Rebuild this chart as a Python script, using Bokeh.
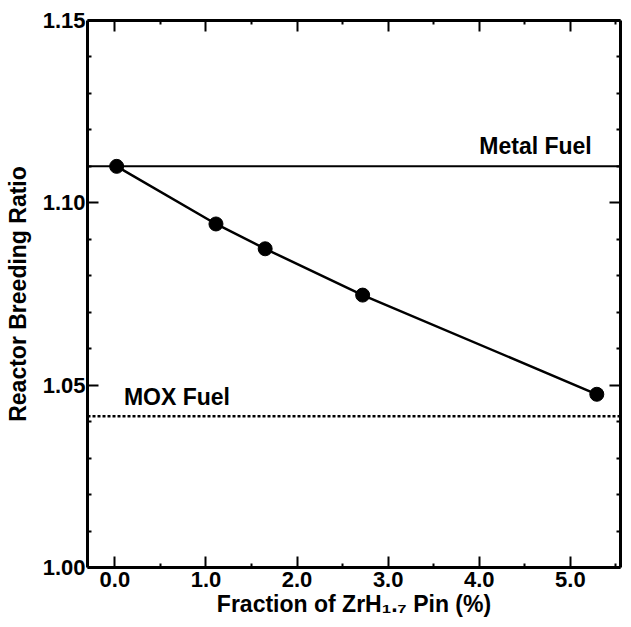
from bokeh.plotting import figure
from bokeh.models import LinearAxis, FixedTicker, Span, Label, Range1d, CustomJSTickFormatter
from bokeh.embed import file_html
from bokeh.resources import INLINE

# ---- data ----
zrh_fraction = [0.02, 1.11, 1.65, 2.72, 5.29]          # % ZrH1.7 pin
breeding_ratio = [1.110, 1.0942, 1.0874, 1.0747, 1.0475]
metal_fuel_ratio = 1.110
mox_fuel_ratio = 1.0415

x_ticks = [0, 1, 2, 3, 4, 5]
x_tick_labels = ["0.0", "1.0", "2.0", "3.0", "4.0", "5.0"]
x_minor = [0.5, 1.5, 2.5, 3.5, 4.5, 5.5]
y_ticks = [1.00, 1.05, 1.10, 1.15]
y_tick_labels = ["1.00", "1.05", "1.10", "1.15"]
y_minor = [1.01, 1.02, 1.03, 1.04, 1.06, 1.07, 1.08, 1.09,
           1.11, 1.12, 1.13, 1.14]

FONT = "Liberation Sans"

p = figure(width=623, height=619,
           x_range=Range1d(-0.3, 5.55), y_range=Range1d(1.0, 1.15),
           output_backend="svg", toolbar_location=None,
           min_border_left=87, min_border_right=3,
           min_border_top=20, min_border_bottom=52)
p.grid.visible = False
p.outline_line_color = None
p.background_fill_color = "white"
p.border_fill_color = "white"

bottom = p.xaxis[0]
left = p.yaxis[0]

xt = FixedTicker(ticks=x_ticks, minor_ticks=x_minor)
yt = FixedTicker(ticks=y_ticks, minor_ticks=y_minor)

bottom.ticker = xt
left.ticker = yt
bottom.major_label_overrides = dict(zip(x_ticks, x_tick_labels))
left.major_label_overrides = dict(zip(y_ticks, y_tick_labels))

top = LinearAxis(ticker=xt, formatter=CustomJSTickFormatter(code="return ''"))
right = LinearAxis(ticker=yt, formatter=CustomJSTickFormatter(code="return ''"))
p.add_layout(top, "above")
p.add_layout(right, "right")

for ax in [bottom, left, top, right]:
    ax.axis_line_width = 3
    ax.axis_line_color = "black"
    ax.major_tick_in = 11
    ax.major_tick_out = 0
    ax.minor_tick_in = 4
    ax.minor_tick_out = 0
    ax.major_tick_line_width = 2
    ax.minor_tick_line_width = 2
    ax.major_label_text_font = FONT
    ax.major_label_text_font_style = "bold"
    ax.major_label_text_color = "black"
    ax.major_label_text_font_size = "22px"

for ax in [top, right]:
    ax.major_label_text_font_size = "0px"
    ax.major_label_standoff = 0
    ax.axis_label_standoff = 0

left.major_label_standoff = 2
bottom.major_label_standoff = 4

for ax in [left, bottom]:
    ax.axis_label_text_font = FONT
    ax.axis_label_text_font_size = "23px"
    ax.axis_label_text_font_style = "bold"
    ax.axis_label_text_color = "black"

left.axis_label = "Reactor Breeding Ratio"
left.axis_label_standoff = 9
bottom.axis_label = "Fraction of ZrH\u2081.\u2087 Pin (%)"
bottom.axis_label_standoff = 1

# reference lines
p.add_layout(Span(location=metal_fuel_ratio, dimension="width",
                  line_color="black", line_width=2))
p.add_layout(Span(location=mox_fuel_ratio, dimension="width",
                  line_color="black", line_width=2.5, line_dash="3 2"))

# data
p.line(zrh_fraction, breeding_ratio, line_color="black", line_width=2.5)
p.scatter(zrh_fraction, breeding_ratio, size=14, fill_color="black",
          line_color="black")

# in-plot labels
p.add_layout(Label(x=4.0, y=1.1121, text="Metal Fuel", text_font=FONT,
                   text_font_style="bold",
                   text_font_size="23px", text_color="black"))
p.add_layout(Label(x=0.1, y=1.0433, text="MOX Fuel", text_font=FONT,
                   text_font_style="bold",
                   text_font_size="23px", text_color="black"))

open("out.html", "w").write(file_html(p, INLINE))
